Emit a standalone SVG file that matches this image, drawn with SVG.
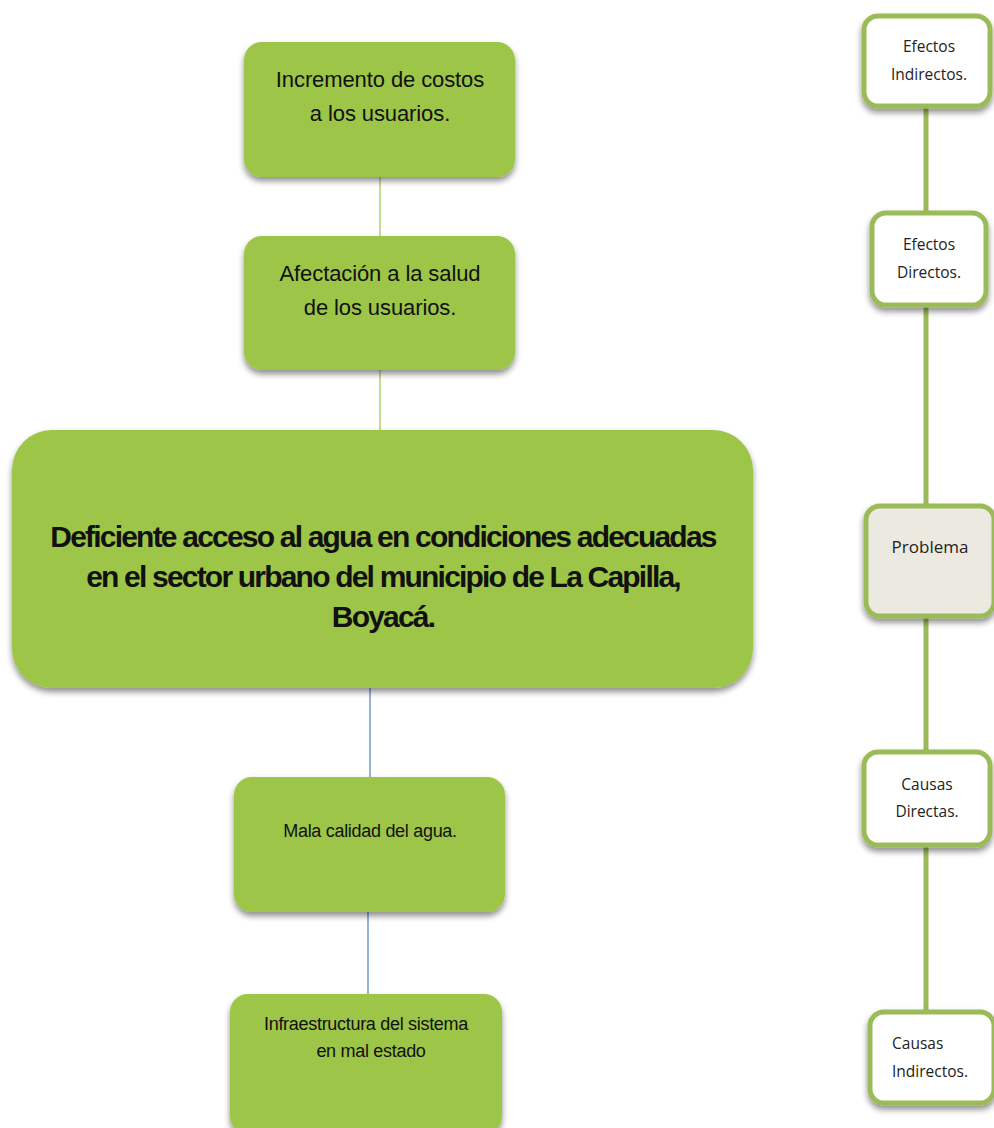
<svg xmlns="http://www.w3.org/2000/svg" width="994" height="1128" viewBox="0 0 994 1128">
<defs>
<filter id="sh" x="-10%" y="-10%" width="120%" height="130%">
<feGaussianBlur in="SourceAlpha" stdDeviation="3"/>
<feOffset dx="0" dy="4" result="b"/>
<feComponentTransfer><feFuncA type="linear" slope="0.45"/></feComponentTransfer>
<feMerge><feMergeNode/><feMergeNode in="SourceGraphic"/></feMerge>
</filter>
</defs>
<style>
.g{fill:#9DC547;filter:url(#sh)}
.w{fill:#fff;stroke:#9BBB59;stroke-width:5;filter:url(#sh)}
.t{font-family:"Liberation Sans",Arial,sans-serif;fill:#111;text-anchor:middle}
.c{font-family:"Open Sans","Noto Sans",sans-serif;fill:#222;text-anchor:middle;font-size:15.5px}
.lg{stroke:#9DC547;stroke-width:1.2}
.lb{stroke:#4F81BD;stroke-width:1.2}
.lr{stroke:#9BBB59;stroke-width:5}
</style>
<g id="connectors">
<line class="lg" x1="380" y1="177" x2="380" y2="236"/>
<line class="lg" x1="380" y1="370" x2="380" y2="430"/>
<line class="lb" x1="370" y1="688" x2="370" y2="778"/>
<line class="lb" x1="368" y1="903" x2="368" y2="995"/>
<line class="lr" x1="926" y1="106" x2="926" y2="214"/>
<line class="lr" x1="926" y1="305" x2="926" y2="508"/>
<line class="lr" x1="926" y1="615" x2="926" y2="755"/>
<line class="lr" x1="926" y1="845" x2="926" y2="1013"/>
</g>
<g id="n1"><rect class="g" x="244" y="42" width="271" height="135" rx="18"/>
<text class="t" font-size="22" letter-spacing="-0.1"><tspan x="380" y="87">Incremento de costos</tspan><tspan x="380" y="121">a los usuarios.</tspan></text></g>
<g id="n2"><rect class="g" x="244" y="236" width="271" height="134" rx="18"/>
<text class="t" font-size="22" letter-spacing="-0.1"><tspan x="380" y="281">Afectación a la salud</tspan><tspan x="380" y="315">de los usuarios.</tspan></text></g>
<g id="n3"><rect class="g" x="12" y="430" width="741" height="258" rx="40"/>
<text class="t" font-size="30" font-weight="bold" letter-spacing="-1.8"><tspan x="383" y="547">Deficiente acceso al agua en condiciones adecuadas</tspan><tspan x="383" y="587">en el sector urbano del municipio de La Capilla,</tspan><tspan x="383" y="627">Boyacá.</tspan></text></g>
<g id="n4"><rect class="g" x="234" y="777" width="271" height="135" rx="18"/>
<text class="t" font-size="18" letter-spacing="-0.3"><tspan x="370" y="837">Mala calidad del agua.</tspan></text></g>
<g id="n5"><rect class="g" x="230" y="994" width="272" height="140" rx="18"/>
<text class="t" font-size="18" letter-spacing="-0.3"><tspan x="366" y="1030">Infraestructura del sistema</tspan><tspan x="371" y="1057">en mal estado</tspan></text></g>
<g id="r1"><rect class="w" x="864" y="16" width="126" height="90" rx="14"/>
<text class="c"><tspan x="929" y="52">Efectos</tspan><tspan x="929" y="80">Indirectos.</tspan></text></g>
<g id="r2"><rect class="w" x="872" y="213" width="114" height="92" rx="14"/>
<text class="c"><tspan x="929" y="250">Efectos</tspan><tspan x="929" y="278">Directos.</tspan></text></g>
<g id="r3"><rect class="w" x="866" y="506" width="128" height="110" rx="14" style="fill:#ECEAE0"/>
<text class="c" style="font-size:17px"><tspan x="930" y="553">Problema</tspan></text></g>
<g id="r4"><rect class="w" x="864" y="752" width="126" height="93" rx="14"/>
<text class="c"><tspan x="927" y="790">Causas</tspan><tspan x="927" y="817">Directas.</tspan></text></g>
<g id="r5"><rect class="w" x="870" y="1012" width="124" height="91" rx="14"/>
<text class="c" style="text-anchor:start"><tspan x="892" y="1049">Causas</tspan><tspan x="892" y="1077">Indirectos.</tspan></text></g>
</svg>
